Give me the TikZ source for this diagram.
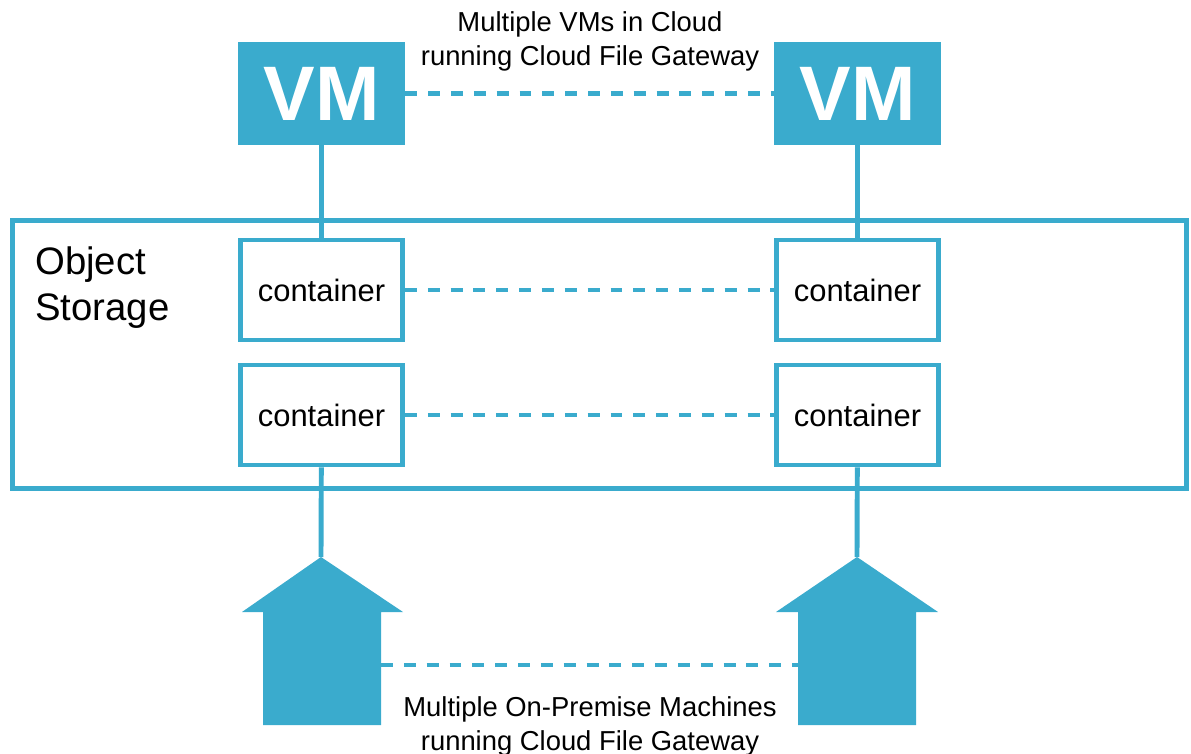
\documentclass[tikz,border=0pt]{standalone}
\usepackage{fontspec}
\setmainfont{Liberation Sans}
\usetikzlibrary{positioning}
\definecolor{cloudblue}{HTML}{3AABCD}

\begin{document}
\begin{tikzpicture}[
    x=0.02cm, y=-0.02cm,
    vm/.style={rectangle, fill=cloudblue, inner sep=0pt, minimum width=3.34cm, minimum height=2.06cm,
        text=white, font=\bfseries\fontsize{44}{50}\selectfont},
    box/.style={rectangle, draw=cloudblue, line width=2.8pt, fill=white, inner sep=0pt,
        minimum width=3.24cm, minimum height=2cm, font=\fontsize{17.6}{21}\selectfont},
    link/.style={draw=cloudblue, line width=2.8pt},
    dots/.style={draw=cloudblue, line width=2.3pt, dash pattern=on 6.8pt off 6.2pt},
    house/.style={fill=cloudblue},
    caption/.style={align=center, inner sep=0pt, font=\fontsize{15.6}{19.3}\selectfont}
]
\useasboundingbox (0,0) rectangle (1191,754);

% Object storage frame
\node[box, minimum width=23.48cm, minimum height=5.36cm] (store) at (599.5,354.5) {};
\node[align=left, anchor=north west, inner sep=0pt, font=\fontsize{21.8}{26}\selectfont]
    (storetext) at (35,246.5) {Object\\Storage};

% VMs in the cloud
\node[vm] (VM_1) at (321.5,93.5) {VM};
\node[vm] (VM_2) at (857.5,93.5) {VM};

% Containers
\node[box] (C1_1) at (321.5,290) {container};
\node[box] (C1_2) at (857.5,290) {container};
\node[box] (C2_1) at (321.5,415) {container};
\node[box] (C2_2) at (857.5,415) {container};

% On-premise machines (up arrows)
\fill[house] (321,557) -- (403,612) -- (381,612) -- (381,725) -- (263,725) -- (263,612) -- (242,612) -- cycle;
\fill[house] (857,557) -- (938,612) -- (916,612) -- (916,725) -- (798,725) -- (798,612) -- (776,612) -- cycle;
\coordinate (tip_1) at (321,557);
\coordinate (tip_2) at (857,557);
\coordinate (arm_1) at (381,665);
\coordinate (arm_2) at (798,665);

% Solid links
\path[link] (VM_1) -- (C1_1);
\path[link] (VM_2) -- (C1_2);
\path[link] (C2_1) -- (tip_1);
\path[link] (C2_2) -- (tip_2);

% Dashed links
\path[dots] (VM_1) -- (VM_2);
\path[dots] (C1_1) -- (C1_2);
\path[dots] (C2_1) -- (C2_2);
\path[dots] (arm_1) -- (arm_2);

% Captions
\node[caption, anchor=north] (toptext) at (590,11.5) {Multiple VMs in Cloud\\running Cloud File Gateway};
\node[caption, anchor=north] (bottext) at (590,696) {Multiple On-Premise Machines\\running Cloud File Gateway};

\end{tikzpicture}
\end{document}
